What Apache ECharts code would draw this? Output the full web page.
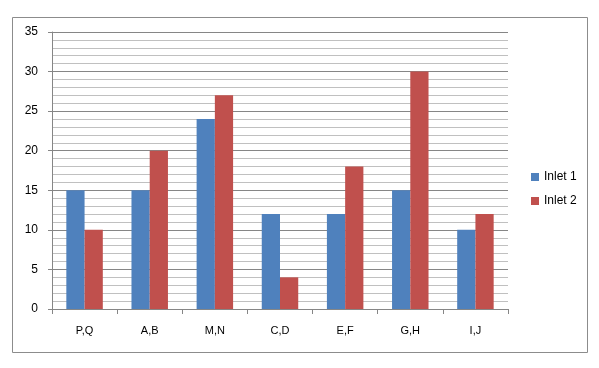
<!DOCTYPE html>
<html><head><meta charset="utf-8">
<script src="https://cdn.jsdelivr.net/npm/echarts@6/dist/echarts.min.js"></script>
<style>html,body{margin:0;padding:0;background:#fff}#c{width:599px;height:368px}</style>
</head><body><div id="c"></div>
<script>
const categories = ['P,Q','A,B','M,N','C,D','E,F','G,H','I,J'];
const inlet1 = [15,15,24,12,12,15,10];
const inlet2 = [10,20,27,4,18,30,12];
const seriesNames = ['Inlet 1','Inlet 2'];
const chart = echarts.init(document.getElementById('c'));
const font = 'Liberation Sans, Arial, sans-serif';
chart.setOption({
  animation:false,
  backgroundColor:'#fff',
  graphic:[{type:'rect',shape:{x:12.5,y:17.5,width:575,height:335},style:{fill:'none',stroke:'#8c8c8c',lineWidth:1},z:-1}],
  grid:{left:52,top:32,width:456,height:277,containLabel:false},
  legend:{orient:'vertical',left:526,top:166,itemWidth:8,itemHeight:8,itemGap:12,icon:'rect',
    textStyle:{fontFamily:font,fontSize:12,color:'#000'},data:seriesNames},
  xAxis:{type:'category',data:categories,
    axisLine:{lineStyle:{color:'#868686'}},
    axisTick:{show:true,length:5,lineStyle:{color:'#868686'}},
    axisLabel:{fontFamily:font,fontSize:11,color:'#000',margin:16}},
  yAxis:{type:'value',min:0,max:35,interval:5,
    axisLine:{show:true,lineStyle:{color:'#868686'}},
    axisTick:{show:true,length:4,lineStyle:{color:'#868686'}},
    axisLabel:{fontFamily:font,fontSize:12,color:'#000',margin:14},
    splitLine:{show:true,lineStyle:{color:'#868686'}},
    minorTick:{show:false,splitNumber:5},
    minorSplitLine:{show:true,lineStyle:{color:'#c0c0c0'}}},
  series:[
    {name:seriesNames[0],type:'bar',data:inlet1,barGap:'0%',barCategoryGap:'44%',itemStyle:{color:'#4F81BD'}},
    {name:seriesNames[1],type:'bar',data:inlet2,barGap:'0%',barCategoryGap:'44%',itemStyle:{color:'#C0504D'}}
  ]
});
</script></body></html>
